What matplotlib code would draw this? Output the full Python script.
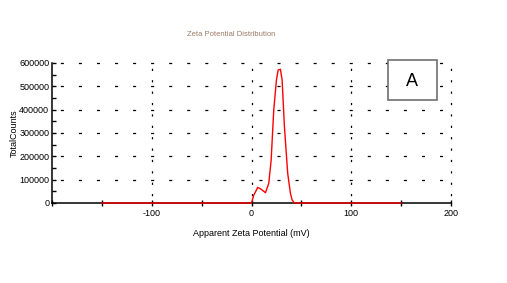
import matplotlib
matplotlib.use('Agg')
import matplotlib.pyplot as plt
from matplotlib.ticker import MultipleLocator

plt.rcParams['font.family'] = 'Liberation Sans'
plt.rcParams['lines.scale_dashes'] = False

# Zeta potential distribution
zeta_mv = [-150, 0, 2.3, 6.3, 9.7, 14, 17.3, 19.7, 22.3, 25, 26.7, 29, 30.7, 33, 36.3, 39, 40.7, 43, 150]
counts = [0, 0, 34000, 67000, 59000, 44000, 84000, 184000, 398000, 527000, 570000, 573000,
          527000, 327000, 127000, 42000, 13000, 0, 0]

x_ticks = [-100, 0, 100, 200]
y_ticks = [0, 100000, 200000, 300000, 400000, 500000, 600000]

fig = plt.figure(figsize=(5.07, 2.83), dpi=100)
ax = fig.add_axes([52 / 507, 1 - 203 / 283, 399 / 507, 140 / 283])

# grid: dashed horizontals, dotted verticals
for y in y_ticks[1:]:
    ax.axhline(y, color='black', lw=0.9, ls=(7, (2.2, 10.8)), zorder=1, clip_on=False)
for x in x_ticks:
    ax.axvline(x, color='black', lw=0.9, ls=(3, (1.6, 6.6)), zorder=1, clip_on=False)

ax.plot(zeta_mv, counts, color='red', lw=1.0, zorder=3, clip_on=False)

ax.set_xlim(-200, 200)
ax.set_ylim(0, 600000)
ax.xaxis.set_minor_locator(MultipleLocator(50))
ax.yaxis.set_minor_locator(MultipleLocator(50000))
ax.set_xticks(x_ticks)
ax.set_yticks(y_ticks)
ax.set_xticklabels([str(v) for v in x_ticks])
ax.set_yticklabels([str(v) for v in y_ticks])

ax.spines['top'].set_visible(False)
ax.spines['right'].set_visible(False)
ax.spines['left'].set_linewidth(1.1)
ax.spines['bottom'].set_linewidth(1.1)
ax.tick_params(axis='x', which='both', direction='inout', length=5, width=1, labelsize=6.5, pad=2)
ax.tick_params(axis='y', which='both', direction='in', length=3, width=1, labelsize=6.5, pad=2)

fig.text(231 / 507, 1 - 35 / 283, 'Zeta Potential Distribution', fontsize=5.5,
         color='#9a7a66', ha='center', va='center')
fig.text(251 / 507, 1 - 233 / 283, 'Apparent Zeta Potential (mV)', fontsize=6.5,
         ha='center', va='center')
fig.text(14 / 507, 1 - 133 / 283, 'TotalCounts', fontsize=6.5, rotation=90,
         ha='center', va='center')

# "A" label box
fig.patches.append(plt.Rectangle((388 / 507, 1 - 100 / 283), 49 / 507, 40 / 283,
                                 transform=fig.transFigure, facecolor='white',
                                 edgecolor='#707070', lw=1.2, figure=fig, zorder=5))
fig.text(412 / 507, 1 - 81 / 283, 'A', fontsize=13, ha='center', va='center', zorder=6)

fig.savefig('out.png', dpi=100)
